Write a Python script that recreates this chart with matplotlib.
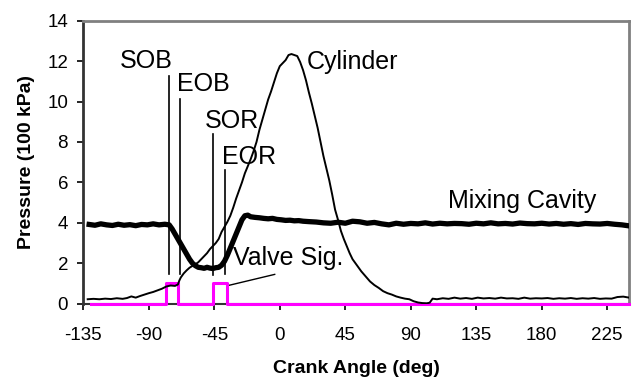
import numpy as np
import matplotlib
matplotlib.use("Agg")
import matplotlib.pyplot as plt

plt.rcParams['font.family'] = ['Liberation Sans', 'DejaVu Sans']
plt.rcParams['axes.unicode_minus'] = False

# cylinder pressure vs crank angle (100 kPa)
cyl_angle = [-132, -128, -124, -120, -116, -112, -108, -105, -102, -99, -96, -93,
             -90, -87, -84, -81, -78, -75, -72, -70, -69, -68, -66, -64, -62, -60,
             -58, -56, -54, -52, -50, -48, -46, -44, -42, -40, -38, -36, -34, -32,
             -30, -28, -26, -24, -22, -20, -18, -16, -14, -12, -10, -8, -6, -4, -2,
             0, 2, 4, 6, 8, 10, 12, 14, 16, 18, 20, 22, 24, 26, 28, 30, 32, 34, 36,
             38, 40, 42, 44, 46, 48, 50, 53, 56, 59, 62, 65, 68, 71, 74, 77, 80, 83,
             86, 89, 92, 95, 98, 101, 103, 105, 108, 112, 116, 120, 124, 128, 132,
             136, 140, 144, 148, 152, 156, 160, 164, 168, 172, 176, 180, 184, 188,
             192, 196, 200, 204, 208, 212, 216, 220, 224, 228, 232, 236, 240]
cyl_p = [0.22, 0.24, 0.22, 0.25, 0.23, 0.27, 0.24, 0.28, 0.36, 0.30, 0.38, 0.45,
         0.52, 0.58, 0.66, 0.74, 0.85, 0.90, 0.88, 0.95, 1.15, 1.30, 1.50, 1.65, 1.78, 1.87,
         1.95, 2.05, 2.20, 2.35, 2.50, 2.70, 2.85, 3.00, 3.20, 3.55, 3.80, 4.05, 4.35, 4.75,
         5.20, 5.60, 6.00, 6.45, 6.80, 7.15, 7.55, 8.00, 8.60, 9.10, 9.60, 10.10, 10.50, 10.95, 11.40,
         11.75, 11.90, 12.05, 12.30, 12.35, 12.30, 12.25, 11.95, 11.55, 11.05, 10.45, 9.90, 9.30, 8.70, 8.00, 7.30, 6.70, 6.10, 5.40,
         4.65, 4.15, 3.60, 3.20, 2.85, 2.50, 2.20, 1.90, 1.60, 1.35, 1.10, 0.92, 0.78, 0.62, 0.52, 0.45, 0.36, 0.30,
         0.25, 0.22, 0.12, 0.06, 0.03, 0.02, 0.05, 0.25, 0.22, 0.27, 0.24, 0.30, 0.25, 0.28, 0.24,
         0.30, 0.26, 0.28, 0.25, 0.30, 0.26, 0.27, 0.24, 0.30, 0.25, 0.27, 0.26, 0.28, 0.24,
         0.27, 0.25, 0.28, 0.24, 0.27, 0.25, 0.28, 0.24, 0.26, 0.25, 0.33, 0.35, 0.30]

# mixing cavity pressure
mix_angle = [-131, -127, -123, -119, -115, -111, -107, -103, -99, -95, -91, -87, -83,
             -79, -76, -74, -72, -70, -68, -66, -64, -62, -60, -58, -56, -54, -52, -50,
             -48, -46, -44, -42, -40, -38, -36, -34, -32, -30, -28, -26, -24, -22, -20,
             -17, -14, -11, -8, -5, -2, 1, 4, 7, 10, 13, 16, 20, 25, 30, 35, 40, 45, 50,
             55, 60, 65, 70, 75, 80, 85, 90, 95, 100, 105, 110, 115, 120, 125, 130, 135,
             140, 145, 150, 155, 160, 165, 170, 175, 180, 185, 190, 195, 200, 205, 210,
             215, 220, 225, 230, 235, 240]
mix_p = [3.92, 3.88, 3.95, 3.90, 3.87, 3.93, 3.88, 3.91, 3.86, 3.92, 3.90, 3.95, 3.90,
         3.93, 3.90, 3.70, 3.45, 3.20, 2.95, 2.70, 2.45, 2.20, 2.00, 1.88, 1.80, 1.78, 1.75, 1.80,
         1.76, 1.74, 1.78, 1.80, 1.90, 2.10, 2.40, 2.75, 3.10, 3.45, 3.80, 4.15, 4.35, 4.38, 4.30,
         4.27, 4.25, 4.22, 4.20, 4.22, 4.17, 4.15, 4.12, 4.13, 4.10, 4.11, 4.08, 4.06, 4.04, 4.00, 3.98, 4.03, 3.98, 4.08,
         4.05, 3.98, 4.02, 3.95, 3.90, 3.98, 3.93, 3.97, 3.95, 4.00, 3.94, 3.98, 3.95, 3.97, 3.96, 3.93, 3.98,
         3.95, 4.00, 3.95, 3.97, 3.94, 3.99, 3.96, 3.95, 3.98, 3.94, 3.97, 3.93, 3.96, 3.92, 3.97,
         3.95, 3.94, 3.97, 3.93, 3.90, 3.85]

# injector valve signal (step edges and levels)
valve_edges = [-130, -78.5, -69.8, -45.8, -36.6, 240]
valve_level = [0, 1, 0, 1, 0, 0]

# event markers: start/end of blowdown and recompression
events = ['SOB', 'EOB', 'SOR', 'EOR']
event_angle = [-76.0, -68.7, -46.2, -37.8]
event_top = [11.27, 10.15, 8.4, 6.6]
event_bottom = [1.45, 1.45, 1.42, 1.45]
event_text_pos = [(-110, 12.0), (-70.9, 10.86), (-51.5, 9.06), (-40.0, 7.28)]

fig = plt.figure(figsize=(6.38, 3.81), dpi=100)
ax = fig.add_axes([0.1306, 0.2029, 0.8554, 0.7428])

ax.plot(valve_edges, valve_level, drawstyle='steps-post', color='#ff00ff',
        lw=2.2, zorder=3, clip_on=False)
ax.plot(mix_angle, mix_p, color='black', lw=3.8, zorder=4)
ax.plot(cyl_angle, cyl_p, color='black', lw=1.4, zorder=5)

for a, b, t in zip(event_angle, event_bottom, event_top):
    ax.plot([a, a], [b, t], color='black', lw=1.2)

for name, (tx, ty) in zip(events, event_text_pos):
    ax.text(tx, ty, name, fontsize=18, ha='left', va='center')

ax.text(18.3, 11.98, 'Cylinder', fontsize=18, ha='left', va='center')
ax.text(115.4, 5.08, 'Mixing Cavity', fontsize=18, ha='left', va='center')
ax.text(-32.1, 2.25, 'Valve Sig.', fontsize=18, ha='left', va='center')
ax.plot([-36.0, -3.5], [0.89, 1.45], color='black', lw=1.0)

ax.set_xlim(-135, 240)
ax.set_ylim(0, 14)
ax.set_xticks(np.arange(-135, 240, 45))
ax.set_yticks(np.arange(0, 15, 2))

for s in ['top', 'right']:
    ax.spines[s].set_color('#808080')
    ax.spines[s].set_linewidth(2.0)
ax.spines['left'].set_color('#333333')
ax.spines['left'].set_linewidth(2.0)
ax.spines['bottom'].set_color('#333333')
ax.spines['bottom'].set_linewidth(1.5)

ax.tick_params(axis='x', direction='out', length=4, width=1.2, pad=13, labelsize=13.5)
ax.tick_params(axis='y', direction='out', length=4, width=1.2, pad=7, labelsize=13.5)

ax.set_xlabel('Crank Angle (deg)', fontsize=14, fontweight='bold', labelpad=11)
ax.set_ylabel('Pressure (100 kPa)', fontsize=14, fontweight='bold', labelpad=9)

fig.savefig('out.png', dpi=100)
